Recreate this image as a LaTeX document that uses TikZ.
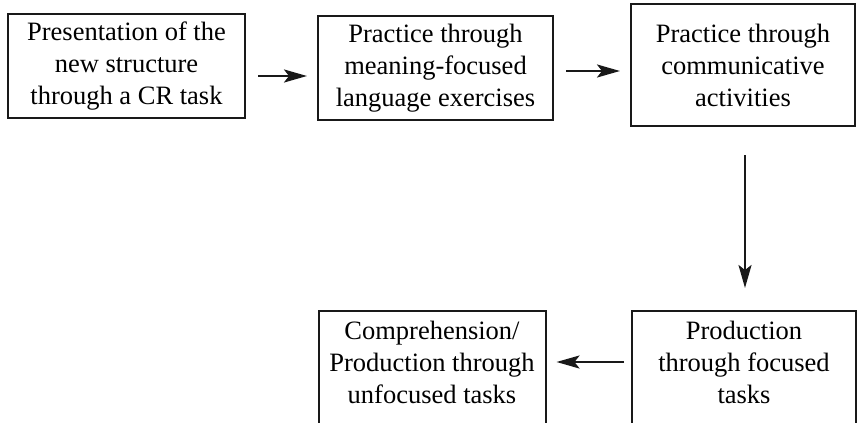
\documentclass[tikz,border=0pt]{standalone}
\usepackage{fontspec}
\setmainfont{Liberation Serif}
\usetikzlibrary{positioning}
\usetikzlibrary{arrows.meta}
\tikzset{>={Stealth[width=13pt,length=23pt,inset=5pt]}}

\begin{document}
\begin{tikzpicture}[x=1pt, y=-1pt, stagebox/.style={rectangle, draw=black!90, line width=2pt, align=center, inner sep=3pt, font=\fontsize{26.5}{32}\selectfont}, openbox/.style={stagebox, draw=none}, frame/.style={draw=black!90, line width=2pt}, flow/.style={->, line width=2.4pt, black!90}]

    \useasboundingbox (0,0) rectangle (863,423);
    \clip (0,0) rectangle (863,423);

    %Nodes
    \node[stagebox, minimum width=237pt, minimum height=104pt](presentation) at (126.5,66){Presentation of the\\new structure\\through a CR task};
    \node[stagebox, minimum width=235pt, minimum height=104pt](meaning) at (435.5,68){Practice through\\meaning-focused\\language exercises};
    \node[stagebox, minimum width=224pt, minimum height=122pt](communicative) at (743,65){Practice through\\communicative\\activities};
    \node[openbox, minimum width=222pt, minimum height=100pt](focused) at (744,362){Production\\through focused\\tasks};
    \node[openbox, minimum width=225pt, minimum height=100pt](unfocused) at (432,362){Comprehension/\\Production through\\unfocused tasks};

    %Frames of the lower boxes, running off the page
    \draw[frame] (focused.north west) rectangle ([yshift=-30pt]focused.south east);
    \draw[frame] (unfocused.north west) rectangle ([yshift=-30pt]unfocused.south east);

    %Lines
    \draw[flow] ([xshift=12pt,yshift=-10pt]presentation.east) -- ([xshift=-10pt,yshift=-8pt]meaning.west);
    \draw[flow] ([xshift=12pt,yshift=-3pt]meaning.east) -- ([xshift=-10pt,yshift=-6pt]communicative.west);
    \draw[flow] ([xshift=2pt,yshift=-28pt]communicative.south) -- ([xshift=1pt,yshift=23pt]focused.north);
    \draw[flow] ([xshift=-8pt,yshift=0pt]focused.west) -- ([xshift=11pt,yshift=0pt]unfocused.east);

\end{tikzpicture}
\end{document}
